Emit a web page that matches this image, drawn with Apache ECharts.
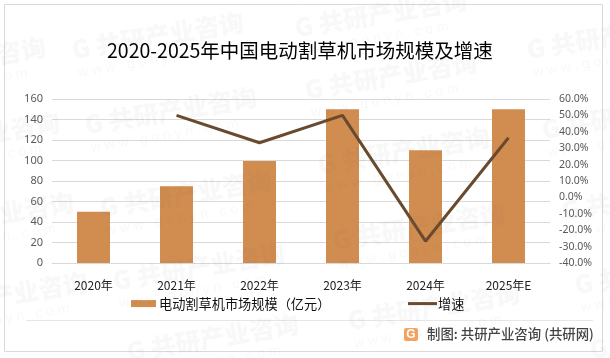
<!DOCTYPE html>
<html>
<head>
<meta charset="utf-8">
<style>html,body{margin:0;padding:0;background:#fff}#c{width:610px;height:358px}</style>
<script src="https://cdn.jsdelivr.net/npm/echarts@6/dist/echarts.min.js"></script>
</head>
<body>
<div id="c"></div>
<script>
const categories = ['2020年','2021年','2022年','2023年','2024年','2025年E'];
const marketSize = [50,75,99.5,150,110,150];
const growth = [null,50,33.3,50,-26.7,36.4];
const barName = '电动割草机市场规模（亿元）';
const lineName = '增速';
const titleText = '2020-2025年中国电动割草机市场规模及增速';
const footerText = '制图: 共研产业咨询 (共研网)';
const FONT = '"Noto Sans CJK SC","Noto Sans",sans-serif';
const wmAnchors = [[-126,75],[-112,150],[-98,230],[-84,310],[72,50],[85,125],[100,208],[113,281],[127,352],[295,28],[305,90],[318,165],[333,241],[348,321],[527,50],[542,130],[562,211],[575,285],[590,350]];
const wm = [];
wmAnchors.forEach(function(p){
  wm.push({type:'text',silent:true,z:100,x:p[0],y:p[1],rotation:0.165,originX:0,originY:0,
    style:{text:'G 共研产业咨询',font:'900 25px '+FONT,fill:'rgba(120,120,120,0.05)',verticalAlign:'middle'}});
  wm.push({type:'text',silent:true,z:100,x:p[0]+6,y:p[1]+23,rotation:0.165,originX:0,originY:0,
    style:{text:'w w w . g o n y n . c o m',font:'14px "Liberation Sans",sans-serif',fill:'rgba(120,120,120,0.05)',verticalAlign:'middle'}});
});
const legendText = {fontFamily:FONT,fontSize:13.2,color:'#111',padding:[0,0,0,-2]};
const chart = echarts.init(document.getElementById('c'),null,{renderer:'canvas'});
chart.setOption({
  animation:false,
  backgroundColor:'#fff',
  title:{text:titleText,left:107,top:41,padding:0,
    textStyle:{fontFamily:FONT,fontSize:19.5,fontWeight:'normal',color:'#000'}},
  grid:{left:52,right:60,top:99,bottom:95,containLabel:false},
  legend:[
    {left:131,top:297,itemWidth:25,itemHeight:7,padding:0,textStyle:legendText,
     data:[{name:barName,icon:'rect'}]},
    {left:408,top:297,itemWidth:29,itemHeight:3,padding:0,textStyle:{fontFamily:FONT,fontSize:13.2,color:'#111',padding:[0,0,0,-4]},
     data:[{name:lineName,icon:'rect'}]}
  ],
  xAxis:{type:'category',data:categories,
    axisLine:{lineStyle:{color:'#d9d9d9',width:1}},axisTick:{show:false},
    axisLabel:{margin:16,fontFamily:FONT,fontSize:12,color:'#222'}},
  yAxis:[
    {type:'value',min:0,max:160,interval:20,
     axisLine:{show:false},axisTick:{show:false},
     splitLine:{lineStyle:{color:'#d9d9d9',width:1}},
     axisLabel:{margin:9,fontFamily:'"Noto Sans",sans-serif',fontSize:11,color:'#595959'}},
    {type:'value',min:-40,max:60,interval:10,
     axisLine:{show:false},axisTick:{show:false},splitLine:{show:false},
     axisLabel:{margin:9,fontFamily:'"Noto Sans",sans-serif',fontSize:10.5,color:'#595959',
       formatter:function(v){return v.toFixed(1)+'%';}}}
  ],
  series:[
    {name:barName,type:'bar',data:marketSize,barWidth:33,itemStyle:{color:'#d18c4f'}},
    {name:lineName,type:'line',yAxisIndex:1,data:growth,symbol:'none',
     lineStyle:{color:'#694a2f',width:3},itemStyle:{color:'#694a2f'},connectNulls:false}
  ],
  graphic:[
    {type:'rect',silent:true,z:0,shape:{x:4.5,y:4.5,width:598,height:347},style:{fill:'none',stroke:'#d9d9d9',lineWidth:1}},
    {type:'line',silent:true,z:1,shape:{x1:26,y1:320.5,x2:593,y2:320.5},style:{stroke:'#e6e6e6',lineWidth:1}},
    {type:'rect',silent:true,z:2,shape:{x:404,y:328,width:14,height:13,r:2},style:{fill:'#f4a460'}},
    {type:'text',silent:true,z:3,x:411,y:334.5,style:{text:'G',font:'bold 12px "Liberation Sans",sans-serif',fill:'#fff',align:'center',verticalAlign:'middle'}},
    {type:'text',silent:true,z:3,x:427,y:334,style:{text:footerText,font:'500 13.4px '+FONT,fill:'#444',verticalAlign:'middle'}}
  ].concat(wm)
});
</script>
</body>
</html>
